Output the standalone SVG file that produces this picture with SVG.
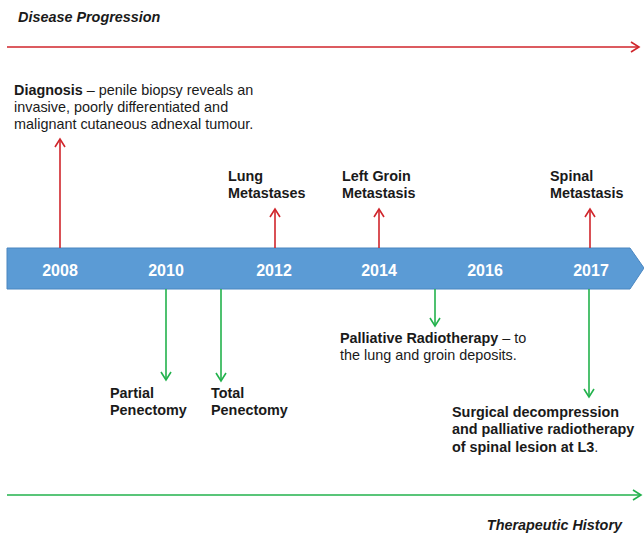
<svg xmlns="http://www.w3.org/2000/svg" width="644" height="534" viewBox="0 0 644 534">
<style>
text{font-family:"Liberation Sans",Arial,sans-serif;font-size:14.4px;fill:#1a1a1a}
.b{font-weight:bold}
.t{font-weight:bold;font-style:italic}
.yr{font-weight:bold;fill:#fff;font-size:16px;text-anchor:middle}
.red{stroke:#d0252b;stroke-width:1.6;fill:none}
.grn{stroke:#22b24c;stroke-width:1.6;fill:none}
</style>
<defs>
<marker id="ar" markerWidth="12" markerHeight="12" refX="9" refY="5" orient="auto" markerUnits="userSpaceOnUse" viewBox="0 0 12 10">
<polyline points="1,0 9,5 1,10" fill="none" stroke="#d0252b" stroke-width="1.6"/>
</marker>
<marker id="ag" markerWidth="12" markerHeight="12" refX="9" refY="5" orient="auto" markerUnits="userSpaceOnUse" viewBox="0 0 12 10">
<polyline points="1,0 9,5 1,10" fill="none" stroke="#22b24c" stroke-width="1.6"/>
</marker>
</defs>
<g id="titles">
<text class="t" x="18" y="22">Disease Progression</text>
<text class="t" x="622" y="530" text-anchor="end">Therapeutic History</text>
</g>
<g id="timeline">
<polygon points="7,248 630,248 644,268 630,289 7,289" fill="#5b9bd5" stroke="#4a86c0" stroke-width="1"/>
<text class="yr" x="60" y="276">2008</text>
<text class="yr" x="166" y="276">2010</text>
<text class="yr" x="274" y="276">2012</text>
<text class="yr" x="379" y="276">2014</text>
<text class="yr" x="485" y="276">2016</text>
<text class="yr" x="591" y="276">2017</text>
</g>
<g id="connectors">
<line class="red" x1="7" y1="47" x2="639" y2="47" marker-end="url(#ar)"/>
<line class="grn" x1="7" y1="495" x2="641" y2="495" marker-end="url(#ag)"/>
<line class="red" x1="60" y1="248" x2="60" y2="139" marker-end="url(#ar)"/>
<line class="red" x1="275" y1="248" x2="275" y2="209" marker-end="url(#ar)"/>
<line class="red" x1="379" y1="248" x2="379" y2="209" marker-end="url(#ar)"/>
<line class="red" x1="590" y1="248" x2="590" y2="209" marker-end="url(#ar)"/>
<line class="grn" x1="166" y1="289" x2="166" y2="380" marker-end="url(#ag)"/>
<line class="grn" x1="221" y1="289" x2="221" y2="381" marker-end="url(#ag)"/>
<line class="grn" x1="435" y1="289" x2="435" y2="326" marker-end="url(#ag)"/>
<line class="grn" x1="589" y1="289" x2="589" y2="397" marker-end="url(#ag)"/>
</g>
<g id="diagnosis">
<text x="14" y="95"><tspan class="b">Diagnosis</tspan> – penile biopsy reveals an</text>
<text x="14" y="112">invasive, poorly differentiated and</text>
<text x="14" y="129">malignant cutaneous adnexal tumour.</text>
</g>
<g id="lung">
<text class="b" x="228" y="181">Lung</text>
<text class="b" x="228" y="198">Metastases</text>
</g>
<g id="groin">
<text class="b" x="342" y="181">Left Groin</text>
<text class="b" x="342" y="198">Metastasis</text>
</g>
<g id="spinal">
<text class="b" x="550" y="181">Spinal</text>
<text class="b" x="550" y="198">Metastasis</text>
</g>
<g id="partial">
<text class="b" x="110" y="398">Partial</text>
<text class="b" x="110" y="415">Penectomy</text>
</g>
<g id="total">
<text class="b" x="211" y="398">Total</text>
<text class="b" x="211" y="415">Penectomy</text>
</g>
<g id="radiotherapy">
<text x="340" y="343"><tspan class="b">Palliative Radiotherapy</tspan> – to</text>
<text x="340" y="360">the lung and groin deposits.</text>
</g>
<g id="surgery">
<text class="b" x="452" y="417">Surgical decompression</text>
<text class="b" x="452" y="434">and palliative radiotherapy</text>
<text x="452" y="452"><tspan class="b">of spinal lesion at L3</tspan>.</text>
</g>
</svg>
